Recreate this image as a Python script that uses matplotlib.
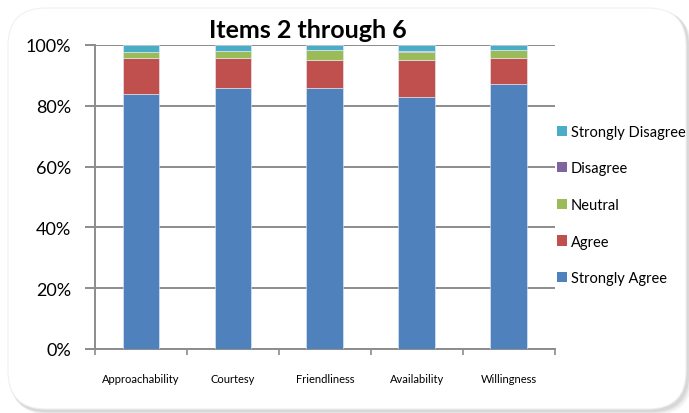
import matplotlib.pyplot as plt
import numpy as np
from matplotlib.patches import FancyBboxPatch, Patch

categories = ["Approachability", "Courtesy", "Friendliness", "Availability", "Willingness"]
strongly_agree = [83.8, 86.0, 85.7, 82.8, 87.1]
agree = [12.0, 9.6, 9.5, 12.4, 8.7]
neutral = [1.8, 2.3, 3.2, 2.5, 2.6]
disagree = [0.0, 0.0, 0.0, 0.4, 0.0]
strongly_disagree = [2.4, 2.1, 1.6, 1.9, 1.6]

series = [
    ("Strongly Agree", strongly_agree, "#4F81BD"),
    ("Agree", agree, "#C0504D"),
    ("Neutral", neutral, "#9BBB59"),
    ("Disagree", disagree, "#8064A2"),
    ("Strongly Disagree", strongly_disagree, "#4BACC6"),
]

plt.rcParams['font.family'] = ['Lato', 'DejaVu Sans']
grid_col = "#8c8c8c"
W, H = 689, 414

fig = plt.figure(figsize=(W / 100, H / 100), dpi=100)

# rounded chart frame with a soft shadow on the right/bottom
def frame_box(x0, y0, x1, y1, **kw):
    return FancyBboxPatch((x0 / W, 1 - y1 / H), (x1 - x0) / W, (y1 - y0) / H,
                          boxstyle="round,pad=0,rounding_size=0.055",
                          transform=fig.transFigure, mutation_aspect=W / H, **kw)

for off, col in [(4, "#f4f4f4"), (2.5, "#e8e8e8"), (1.2, "#d8d8d8")]:
    fig.patches.append(frame_box(8 + off, 9 + off, 688 + off, 412 + off,
                                 facecolor=col, edgecolor="none", zorder=-12))
fig.patches.append(frame_box(8, 9, 686, 410, facecolor="white", edgecolor="#f0f0f0",
                             linewidth=0.8, zorder=-10))

ax = fig.add_axes([0.138, 0.1546, 0.667, 0.7344])
ax.set_facecolor("none")

x = np.arange(len(categories))
bottom = np.zeros(len(categories))
for name, vals, col in series:
    vals = np.array(vals)
    ax.bar(x, vals, 0.4, bottom=bottom, color=col, edgecolor="#e6eef8", linewidth=0.4,
           label=name, zorder=3)
    bottom += vals

ax.set_xlim(-0.5, len(categories) - 0.5)
ax.set_ylim(0, 100)
ax.set_yticks(np.arange(0, 101, 20))
ax.set_yticklabels([f"{v}%" for v in range(0, 101, 20)], fontsize=13)
ax.yaxis.grid(True, color=grid_col, linewidth=1.4, zorder=0)
ax.set_axisbelow(True)

ax.set_xticks(x)
ax.set_xticklabels(categories, fontsize=8)
ax.set_xticks(np.arange(-0.5, len(categories), 1), minor=True)
ax.tick_params(axis="x", which="major", length=0, pad=17)
ax.tick_params(axis="x", which="minor", length=4, color=grid_col, width=1.2)
ax.tick_params(axis="y", length=7, color=grid_col, width=1.4, pad=10)

for s in ["top", "right"]:
    ax.spines[s].set_visible(False)
for s in ["left", "bottom"]:
    ax.spines[s].set_color(grid_col)
    ax.spines[s].set_linewidth(1.4)

fig.text(0.447, 0.927, "Items 2 through 6", ha="center", va="center",
         fontsize=18, fontweight="bold")

handles = [Patch(facecolor=c, edgecolor="none", label=n) for n, _, c in series][::-1]
fig.legend(handles=handles, loc="upper left", bbox_to_anchor=(0.8, 0.71),
           frameon=False, fontsize=10.5, handlelength=0.7, handleheight=0.7,
           handletextpad=0.25, labelspacing=1.55, borderaxespad=0)

fig.savefig("out.png", dpi=100)
